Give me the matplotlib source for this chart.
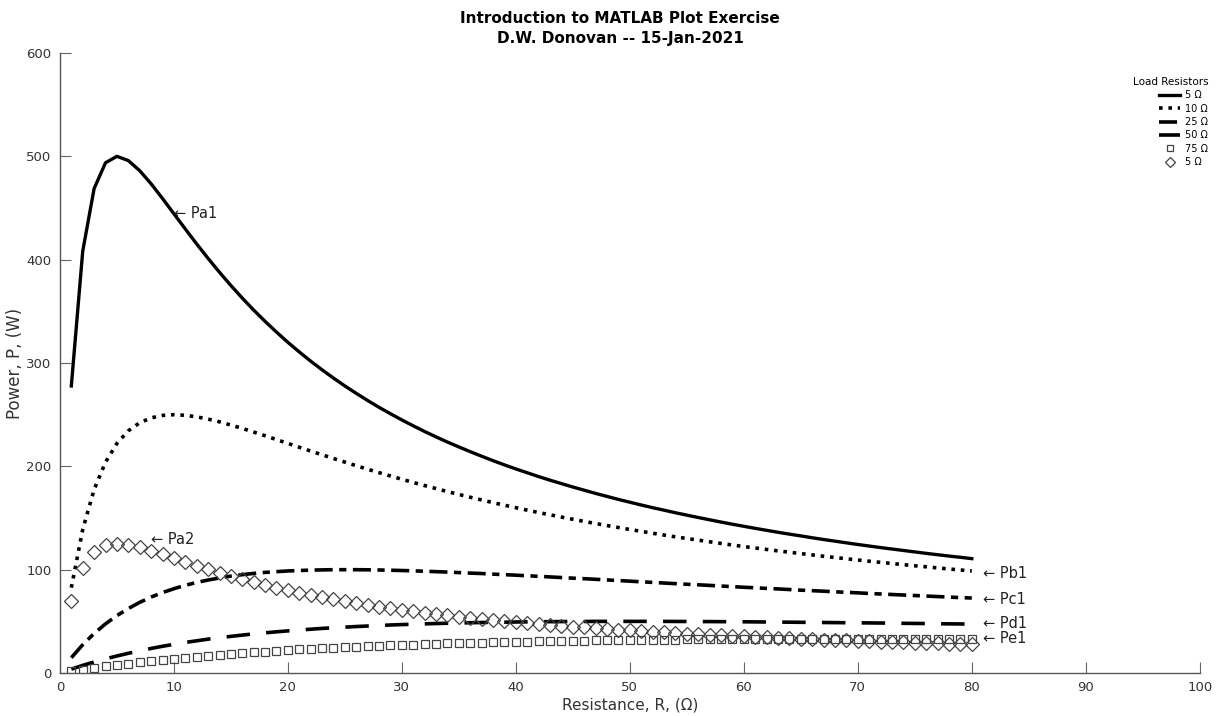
import matplotlib.pyplot as plt
import numpy as np

# resistance values (ohm)
R = list(range(1, 81))

# power curves, one value per ohm step
Pa1 = [277.8, 408.2, 468.8, 493.8, 500.0, 495.9, 486.1, 473.4, 459.2, 444.4,
       429.7, 415.2, 401.2, 387.8, 375.0, 362.8, 351.2, 340.3, 329.9, 320.0,
       310.7, 301.8, 293.4, 285.4, 277.8, 270.6, 263.7, 257.1, 250.9, 244.9,
       239.2, 233.7, 228.5, 223.5, 218.8, 214.2, 209.8, 205.5, 201.4, 197.5,
       193.8, 190.1, 186.6, 183.3, 180.0, 176.9, 173.8, 170.9, 168.0, 165.3,
       162.6, 160.0, 157.6, 155.1, 152.8, 150.5, 148.3, 146.1, 144.0, 142.0,
       140.0, 138.1, 136.2, 134.4, 132.7, 130.9, 129.2, 127.6, 126.0, 124.4,
       122.9, 121.4, 120.0, 118.6, 117.2, 115.8, 114.5, 113.2, 112.0, 110.7]

Pb1 = [82.6, 138.9, 177.5, 204.1, 222.2, 234.4, 242.2, 246.9, 249.3, 250.0,
       249.4, 247.9, 245.7, 243.1, 240.0, 236.7, 233.2, 229.6, 225.9, 222.2,
       218.5, 214.8, 211.2, 207.6, 204.1, 200.6, 197.2, 193.9, 190.7, 187.5,
       184.4, 181.4, 178.5, 175.6, 172.8, 170.1, 167.5, 164.9, 162.4, 160.0,
       157.6, 155.3, 153.1, 150.9, 148.8, 146.7, 144.7, 142.7, 140.8, 138.9,
       137.1, 135.3, 133.5, 131.8, 130.2, 128.6, 127.0, 125.4, 123.9, 122.4,
       121.0, 119.6, 118.2, 116.9, 115.6, 114.3, 113.0, 111.8, 110.6, 109.4,
       108.2, 107.1, 106.0, 104.9, 103.8, 102.8, 101.7, 100.7, 99.7, 98.8]

Pc1 = [14.8, 27.4, 38.3, 47.6, 55.6, 62.4, 68.4, 73.5, 77.9, 81.6,
       84.9, 87.7, 90.0, 92.0, 93.8, 95.2, 96.4, 97.4, 98.1, 98.8,
       99.2, 99.6, 99.8, 100.0, 100.0, 100.0, 99.9, 99.7, 99.5, 99.2,
       98.9, 98.5, 98.1, 97.7, 97.2, 96.7, 96.3, 95.7, 95.2, 94.7,
       94.1, 93.6, 93.0, 92.4, 91.8, 91.3, 90.7, 90.1, 89.5, 88.9,
       88.3, 87.7, 87.1, 86.5, 85.9, 85.4, 84.8, 84.2, 83.6, 83.0,
       82.5, 81.9, 81.4, 80.8, 80.2, 79.7, 79.2, 78.6, 78.1, 77.6,
       77.0, 76.5, 76.0, 75.5, 75.0, 74.5, 74.0, 73.5, 73.0, 72.6]

Pd1 = [3.8, 7.4, 10.7, 13.7, 16.5, 19.1, 21.5, 23.8, 25.9, 27.8,
       29.6, 31.2, 32.8, 34.2, 35.5, 36.7, 37.9, 38.9, 39.9, 40.8,
       41.7, 42.4, 43.2, 43.8, 44.4, 45.0, 45.5, 46.0, 46.5, 46.9,
       47.2, 47.6, 47.9, 48.2, 48.4, 48.7, 48.9, 49.1, 49.2, 49.4,
       49.5, 49.6, 49.7, 49.8, 49.9, 49.9, 50.0, 50.0, 50.0, 50.0,
       50.0, 50.0, 50.0, 49.9, 49.9, 49.8, 49.8, 49.7, 49.7, 49.6,
       49.5, 49.4, 49.3, 49.2, 49.1, 49.0, 48.9, 48.8, 48.7, 48.6,
       48.5, 48.4, 48.3, 48.1, 48.0, 47.9, 47.7, 47.6, 47.5, 47.3]

Pe1 = [1.7, 3.4, 4.9, 6.4, 7.8, 9.1, 10.4, 11.6, 12.8, 13.8,
       14.9, 15.9, 16.8, 17.7, 18.5, 19.3, 20.1, 20.8, 21.5, 22.2,
       22.8, 23.4, 23.9, 24.5, 25.0, 25.5, 26.0, 26.4, 26.8, 27.2,
       27.6, 27.9, 28.3, 28.6, 28.9, 29.2, 29.5, 29.8, 30.0, 30.2,
       30.5, 30.7, 30.9, 31.1, 31.3, 31.4, 31.6, 31.7, 31.9, 32.0,
       32.1, 32.2, 32.3, 32.4, 32.5, 32.6, 32.7, 32.8, 32.9, 32.9,
       33.0, 33.0, 33.1, 33.1, 33.2, 33.2, 33.2, 33.3, 33.3, 33.3,
       33.3, 33.3, 33.3, 33.3, 33.3, 33.3, 33.3, 33.3, 33.3, 33.3]

Pa2 = [69.4, 102.0, 117.2, 123.5, 125.0, 124.0, 121.5, 118.3, 114.8, 111.1,
       107.4, 103.8, 100.3, 96.9, 93.8, 90.7, 87.8, 85.1, 82.5, 80.0,
       77.7, 75.4, 73.3, 71.3, 69.4, 67.6, 65.9, 64.3, 62.7, 61.2,
       59.8, 58.4, 57.1, 55.9, 54.7, 53.5, 52.4, 51.4, 50.4, 49.4,
       48.4, 47.5, 46.7, 45.8, 45.0, 44.2, 43.5, 42.7, 42.0, 41.3,
       40.7, 40.0, 39.4, 38.8, 38.2, 37.6, 37.1, 36.5, 36.0, 35.5,
       35.0, 34.5, 34.1, 33.6, 33.2, 32.7, 32.3, 31.9, 31.5, 31.1,
       30.7, 30.4, 30.0, 29.6, 29.3, 29.0, 28.6, 28.3, 28.0, 27.7]

labels = ['5 \u03a9', '10 \u03a9', '25 \u03a9', '50 \u03a9', '75 \u03a9', '5 \u03a9']

fig = plt.figure(figsize=(12.23, 7.16), dpi=100)
ax = fig.add_axes([0.049, 0.060, 0.932, 0.866])

ax.plot(R, Pa1, color='black', linewidth=2.4, linestyle='-', label=labels[0])
ax.plot(R, Pb1, color='black', linewidth=2.6, linestyle=(0, (1, 1.6)), label=labels[1])
ax.plot(R, Pc1, color='black', linewidth=2.6, linestyle=(0, (5, 1.8, 2, 1.8)), label=labels[2])
ax.plot(R, Pd1, color='black', linewidth=2.6, linestyle=(0, (6.5, 4.5)), label=labels[3])
ax.plot(R, Pe1, color='#444444', linestyle='none', marker='s', markersize=5.5,
        markerfacecolor='none', markeredgewidth=0.9, label=labels[4])
ax.plot(R, Pa2, color='#444444', linestyle='none', marker='D', markersize=7,
        markerfacecolor='none', markeredgewidth=0.9, label=labels[5])

# arrow labels
txt = dict(fontsize=10.5, color='#222222', va='center', ha='left')
ax.text(10, Pa1[9], '\u2190 Pa1', **txt)
ax.text(8, 129, '\u2190 Pa2', **txt)
ax.text(81, Pb1[-1] - 2, '\u2190 Pb1', **txt)
ax.text(81, Pc1[-1] - 1, '\u2190 Pc1', **txt)
ax.text(81, Pd1[-1] + 1, '\u2190 Pd1', **txt)
ax.text(81, Pe1[-1], '\u2190 Pe1', **txt)

ax.set_xlim(0, 100)
ax.set_ylim(0, 600)
ax.set_xticks(np.arange(0, 101, 10))
ax.set_yticks(np.arange(0, 601, 100))
for s in ['top', 'right']:
    ax.spines[s].set_visible(False)
for s in ['left', 'bottom']:
    ax.spines[s].set_color('#555555')
    ax.spines[s].set_linewidth(1.0)
ax.tick_params(direction='in', length=8, width=0.8, color='#666666',
               labelsize=9.5, labelcolor='#333333', pad=6)

ax.set_xlabel('Resistance, R, (\u03a9)', fontsize=11, color='#333333', labelpad=2)
ax.set_ylabel('Power, P, (W)', fontsize=12, color='#333333', labelpad=2)
fig.suptitle('Introduction to MATLAB Plot Exercise\nD.W. Donovan -- 15-Jan-2021',
             x=0.507, y=0.985, fontsize=11, fontweight='bold', linespacing=1.45)

leg = fig.legend(loc='upper right', bbox_to_anchor=(0.995, 0.905), frameon=False,
                 fontsize=7, title='Load Resistors', title_fontsize=7.5,
                 handlelength=2.2, handletextpad=0.5, labelspacing=0.35,
                 markerscale=0.8)
leg._legend_box.align = 'right'

fig.savefig('out.png', dpi=100)
